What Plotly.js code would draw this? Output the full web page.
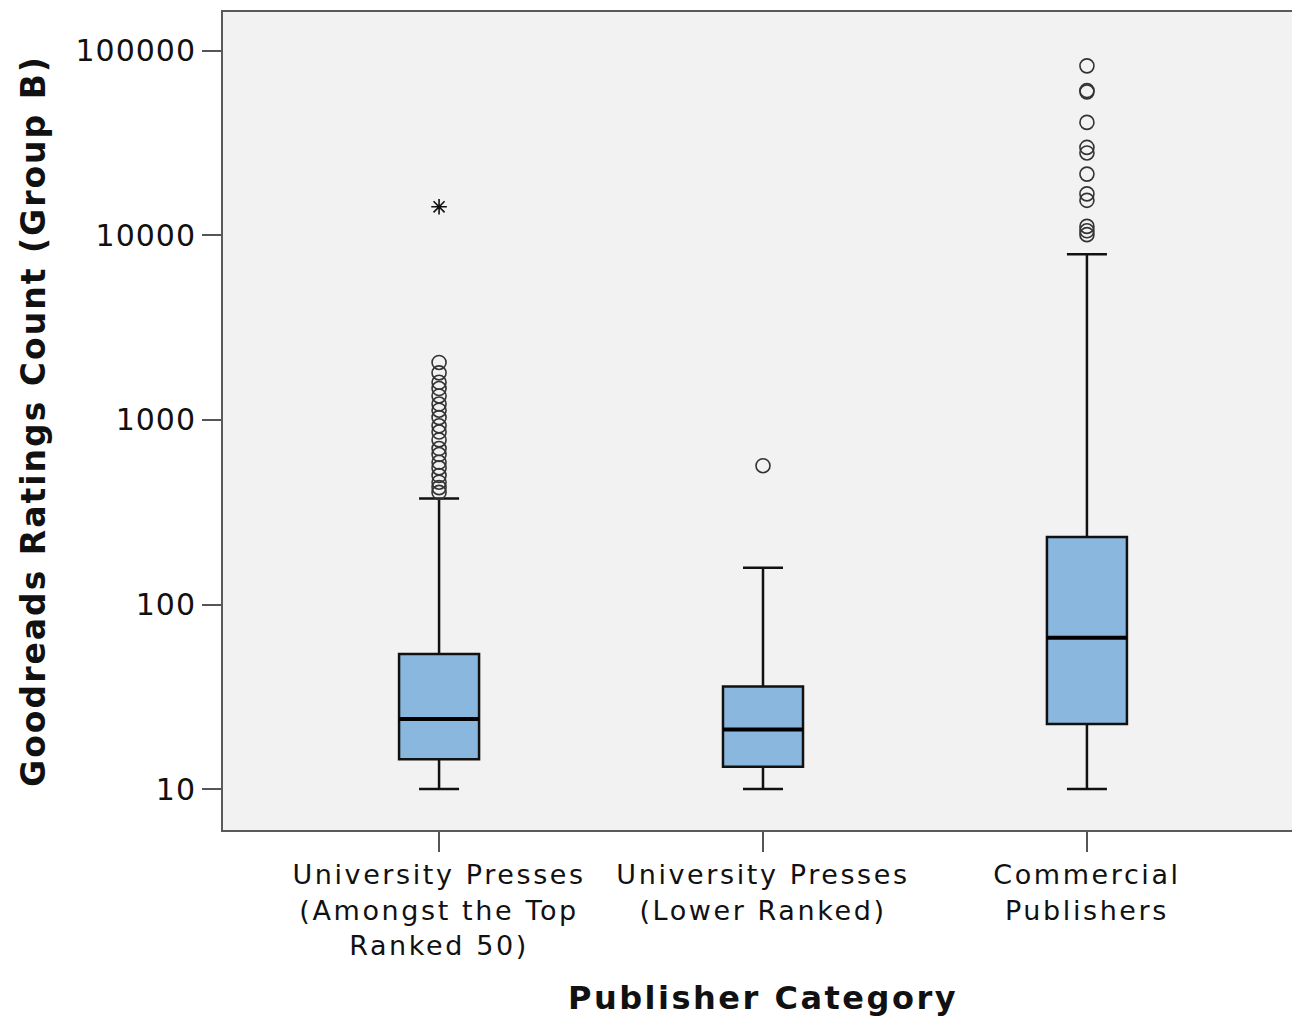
<!DOCTYPE html>
<html>
<head>
<meta charset="utf-8">
<script src="https://cdn.plot.ly/plotly-3.0.1.min.js"></script>
<style>
html,body{margin:0;padding:0;overflow:hidden;background:#fff;}
#chart{width:1310px;height:1018px;}
#chart .xtick text{letter-spacing:2.6px;}
#chart .ytick text{letter-spacing:1px;}
#chart text.xtitle{letter-spacing:2.5px;}
#chart text.ytitle{letter-spacing:2px;}
</style>
</head>
<body>
<div id="chart"></div>
<script>
// Data
const categories = [
  "University Presses<br>(Amongst the Top<br>Ranked 50)",
  "University Presses<br>(Lower Ranked)",
  "Commercial<br>Publishers"
];
const lowerWhisker = [10, 10, 10];
const q1Values = [14.5, 13.2, 22.5];
const medianValues = [24, 21, 66];
const q3Values = [54, 36, 232];
const upperWhisker = [375, 158, 7900];

const outliersTop50 = [2050, 1800, 1600, 1480, 1350, 1220, 1130, 1030, 930, 860, 780, 700, 650, 590, 550, 500, 460, 430, 405];
const outliersLower = [565];
const outliersCommercial = [83000, 61000, 60000, 41000, 30000, 28000, 21500, 16800, 15500, 11200, 10600, 10100];
const extremesTop50 = [14300];

const yTickVals = [10, 100, 1000, 10000, 100000];
const yTickText = ["10", "100", "1000", "10000", "100000"];

const boxWidth = 0.247;
const catIdx = categories.map((c, i) => i);

const traces = [];
traces.push({
  type: 'box',
  x: catIdx,
  q1: q1Values,
  median: medianValues,
  q3: q3Values,
  lowerfence: lowerWhisker,
  upperfence: upperWhisker,
  width: boxWidth,
  whiskerwidth: 0.5,
  fillcolor: '#8ab7dd',
  line: {color: '#111', width: 2.5},
  boxpoints: false,
  hoverinfo: 'skip',
  showlegend: false
});
// Thicker median lines
medianValues.forEach((m, i) => {
  traces.push({
    type: 'scatter', mode: 'lines',
    x: [i - boxWidth / 2, i + boxWidth / 2],
    y: [m, m],
    line: {color: '#000', width: 4},
    showlegend: false, hoverinfo: 'skip'
  });
});
const outlierSets = [outliersTop50, outliersLower, outliersCommercial];
outlierSets.forEach((vals, i) => {
  traces.push({
    type: 'scatter', mode: 'markers',
    x: vals.map(() => i),
    y: vals,
    marker: {symbol: 'circle-open', size: 14, color: '#333', line: {width: 1.6, color: '#333'}},
    showlegend: false, hoverinfo: 'skip'
  });
});
traces.push({
  type: 'scatter', mode: 'markers',
  x: extremesTop50.map(() => 0),
  y: extremesTop50,
  marker: {symbol: 'asterisk-open', size: 13, color: '#111', line: {width: 1.6, color: '#111'}},
  showlegend: false, hoverinfo: 'skip'
});

const layout = {
  width: 1310,
  height: 1018,
  margin: {l: 223, r: 7, t: 12, b: 188},
  paper_bgcolor: '#ffffff',
  plot_bgcolor: '#f2f2f2',
  font: {family: 'DejaVu Sans, sans-serif', color: '#111'},
  showlegend: false,
  xaxis: {
    type: 'linear',
    range: [-0.667, 2.667],
    tickvals: catIdx,
    ticktext: categories,
    tickfont: {size: 27, color: '#111'},
    showgrid: false, zeroline: false,
    showline: true, linecolor: '#5a5a5a', linewidth: 2, mirror: true,
    ticks: 'outside', ticklen: 20, tickwidth: 2, tickcolor: '#555',
    title: {text: '<b>Publisher Category</b>', font: {size: 32, color: '#111'}, standoff: 27},
    automargin: false
  },
  yaxis: {
    type: 'log',
    range: [0.778, 5.211],
    tickvals: yTickVals,
    ticktext: yTickText,
    tickfont: {size: 30, color: '#111'},
    showgrid: false, zeroline: false,
    showline: true, linecolor: '#5a5a5a', linewidth: 2, mirror: true,
    ticks: 'outside', ticklen: 19, tickwidth: 2, tickcolor: '#555',
    title: {text: '<b>Goodreads Ratings Count (Group B)</b>', font: {size: 33, color: '#111'}, standoff: 26},
    automargin: false
  }
};

Plotly.newPlot('chart', traces, layout, {displayModeBar: false, staticPlot: true});
</script>
</body>
</html>
